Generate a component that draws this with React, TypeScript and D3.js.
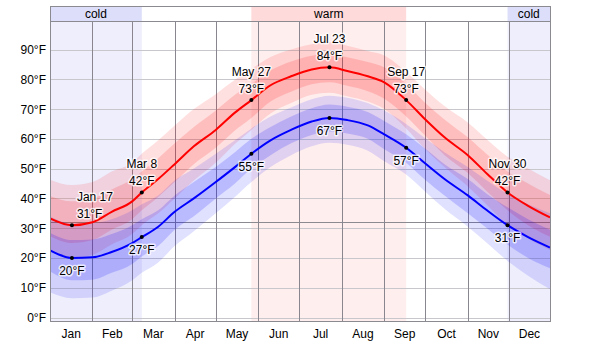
import React from "react";
import * as d3 from "d3";

// ---- data ----
const dates = ["2012-01-01","2012-01-17","2012-02-01","2012-02-15","2012-03-01","2012-03-08","2012-03-20","2012-04-01","2012-04-15","2012-05-01","2012-05-15","2012-05-27","2012-06-10","2012-06-25","2012-07-10","2012-07-23","2012-08-05","2012-08-20","2012-09-01","2012-09-17","2012-10-01","2012-10-15","2012-11-01","2012-11-15","2012-11-30","2012-12-15","2012-12-31"];

const highMean = [33.3,31,32,35.5,39,42,46.5,51.5,57.5,63,68.8,73,78,81,83.3,84,82.8,81,79,73,66.5,60.5,54.5,48.3,42,37.5,33.6];
const highP90 = [46.3,44.5,45.5,49,52,55,59.5,64.5,70,75,79.8,83.5,87.5,90,91.8,92.5,91.3,89.5,88,82.5,76.5,71,65.5,59.8,54,50,46.1];
const highP75 = [40.8,39,40,43,46.5,49,53.5,58.5,64,69.5,74.8,78.5,83,86,87.9,88.6,87.4,85.8,84,78.5,72,66.5,60.5,54.8,49,45,41.1];
const highP25 = [27.3,25,26,29.5,33,36,40.5,45.5,51.5,57,62.8,67,72.5,75.8,78.3,79,77.8,76,73.5,67.5,61,54.5,48.5,42.3,36,31,27.1];
const highP10 = [22.3,20,21,24.5,28,31,35,40,46,52,58.3,63,68.5,72,74.8,75.5,74.3,72.5,70,63.5,56.5,50.5,44,37.8,31,26.5,22.6];

const lowMean = [22.5,20,20.2,22,25,27,30.5,35.5,40,45.5,50.5,55,59.5,63,65.8,67,66.3,64.5,61.5,57,51.7,46.5,41,36,31,27,23.5];
const lowP90 = [34,31.5,31.7,33,36,38,41,46,50,55,59.5,63.5,67.5,70.5,73.3,74.5,73.8,72,69.5,65,60.2,55.5,50.5,46,41.5,38,35];
const lowP75 = [28.5,26,26.2,28,31,33,36,41,45.5,50.5,55.5,60,64,67.5,70.3,71.5,70.8,69,66,61.5,56.7,51.5,46.5,41.5,37,33,29.5];
const lowP25 = [15.5,12.5,12.7,15,18,20.5,24,29.5,34,40,45,50,54.5,58.5,61.3,62.5,61.8,60,56.5,52,46.2,41,35,30,24.5,20,16.5];
const lowP10 = [8.5,6.5,6.7,9,12.5,15,18.5,24,29,35,40.5,45.5,50.5,54.5,57.5,58.7,58,56,52.5,48,42.2,36.5,30.5,25,19,14,9.5];

const labelDates = ["2012-01-17","2012-03-08","2012-05-27","2012-07-23","2012-09-17","2012-11-30"];
const labelNames = ["Jan 17","Mar 8","May 27","Jul 23","Sep 17","Nov 30"];
const labelHigh = [31,42,73,84,73,42];
const labelLow = [20,27,55,67,57,31];

const seasonNames = ["cold","warm","cold"];
const seasonStart = ["2012-01-01","2012-05-27","2012-11-30"];
const seasonEnd = ["2012-03-08","2012-09-17","2012-12-31"];

const yTicks = [0,10,20,30,40,50,60,70,80,90];
const freezing = 32;
const monthNames = ["Jan","Feb","Mar","Apr","May","Jun","Jul","Aug","Sep","Oct","Nov","Dec"];

// ---- layout ----
const W = 600, H = 344;
const L = 50, R = 550, T = 21, B = 321, HT = 6;
const FONT = "'Liberation Sans', Arial, sans-serif";

export default function App() {
  const parse = d3.timeParse("%Y-%m-%d");
  const x = d3.scaleTime().domain([parse("2012-01-01")!, parse("2012-12-31")!]).range([L, R]);
  const y = d3.scaleLinear().domain([0, 90]).range([317.5, 49.5]);

  const rows = dates.map((d, i) => ({
    date: parse(d)!,
    hm: highMean[i], h90: highP90[i], h75: highP75[i], h25: highP25[i], h10: highP10[i],
    lm: lowMean[i], l90: lowP90[i], l75: lowP75[i], l25: lowP25[i], l10: lowP10[i],
  }));
  type Row = typeof rows[number];
  const curve = d3.curveMonotoneX;
  const area = (lo: (r: Row) => number, hi: (r: Row) => number) =>
    d3.area<Row>().x(r => x(r.date)).y0(r => y(lo(r))).y1(r => y(hi(r))).curve(curve)(rows) || "";
  const line = (v: (r: Row) => number) =>
    d3.line<Row>().x(r => x(r.date)).y(r => y(v(r))).curve(curve)(rows) || "";

  const monthStarts = d3.timeMonth.range(parse("2012-01-01")!, parse("2013-01-01")!);
  const monthBounds = monthStarts.slice(1);
  const endX = R;

  const halo = {
    stroke: "#fff", strokeWidth: 3, strokeOpacity: 0.75, paintOrder: "stroke" as any, strokeLinejoin: "round" as any,
  };

  return (
    <svg width={W} height={H} style={{ position: "fixed", left: 0, top: 0, background: "#fff" }} fontFamily={FONT}>
      <defs>
        <clipPath id="plot"><rect x={L} y={T} width={R - L} height={B - T} /></clipPath>
      </defs>
      {/* season background */}
      {seasonNames.map((s, i) => {
        const x0 = x(parse(seasonStart[i])!), x1 = x(parse(seasonEnd[i])!);
        return (
          <g key={i}>
            <rect x={x0} y={T} width={x1 - x0} height={B - T} fill={s === "cold" ? "#eeeefc" : "#ffeeee"} />
            <rect x={x0} y={HT} width={x1 - x0} height={T - HT} fill={s === "cold" ? "#dcdefa" : "#ffdada"} />
          </g>
        );
      })}
      {/* horizontal grid */}
      {yTicks.map(t => (
        <line key={t} x1={L} x2={R} y1={Math.round(y(t)) + 0.5} y2={Math.round(y(t)) + 0.5} stroke="#c8c8cc" strokeWidth={1} />
      ))}
      <line x1={L} x2={R} y1={Math.round(y(freezing)) + 0.5} y2={Math.round(y(freezing)) + 0.5} stroke="#8a8a90" strokeWidth={1} />
      {/* month lines */}
      {monthBounds.map((m, i) => (
        <line key={i} x1={Math.round(x(m)) + 0.5} x2={Math.round(x(m)) + 0.5} y1={T} y2={B} stroke="#8a8690" strokeWidth={1} />
      ))}
      {/* bands */}
      <g clipPath="url(#plot)">
        <path d={area(r => r.h10, r => r.h90)} fill="rgba(255,0,0,0.12)" />
        <path d={area(r => r.h25, r => r.h75)} fill="rgba(255,0,0,0.15)" />
        <path d={area(r => r.l10, r => r.l90)} fill="rgba(0,0,255,0.12)" />
        <path d={area(r => r.l25, r => r.l75)} fill="rgba(0,0,255,0.17)" />
        <path d={line(r => r.hm)} fill="none" stroke="#ff0000" strokeWidth={2} />
        <path d={line(r => r.lm)} fill="none" stroke="#0000ff" strokeWidth={2} />
      </g>
      {/* frames */}
      <rect x={L + 0.5} y={HT + 0.5} width={R - L} height={B - HT} fill="none" stroke="#8a8a90" />
      <line x1={L} x2={R + 1} y1={T + 0.5} y2={T + 0.5} stroke="#8a8a90" />
      {seasonNames.map((s, i) => {
        const x0 = x(parse(seasonStart[i])!), x1 = x(parse(seasonEnd[i])!);
        return (
          <text key={i} x={(x0 + x1) / 2} y={HT + 11.5} fontSize={12} textAnchor="middle" fill="#000">{s}</text>
        );
      })}
      {/* labels */}
      {labelDates.map((d, i) => {
        const px = x(parse(d)!);
        const hy = y(labelHigh[i]);
        const ly = y(labelLow[i]);
        const start = i === 0;
        const tx = start ? px + 5 : px;
        const anchor = start ? "start" : "middle";
        return (
          <g key={d} fontSize={12} fill="#000">
            <circle cx={px} cy={hy} r={2} fill="#000" />
            <circle cx={px} cy={ly} r={2} fill="#000" />
            <text x={tx} y={hy - 24} textAnchor={anchor} {...halo}>{labelNames[i]}</text>
            <text x={tx} y={hy - 7.5} textAnchor={anchor} {...halo}>{labelHigh[i]}°F</text>
            <text x={px} y={ly + 17} textAnchor="middle" {...halo}>{labelLow[i]}°F</text>
          </g>
        );
      })}
      {/* y axis labels */}
      {yTicks.map(t => (
        <text key={t} x={46} y={y(t) + 4.5} fontSize={12} textAnchor="end" fill="#000">{t}°F</text>
      ))}
      {/* month labels */}
      {monthStarts.map((m, i) => {
        const next = i < 11 ? monthStarts[i + 1] : null;
        const cx = (x(m) + (next ? x(next) : endX)) / 2;
        return <text key={i} x={cx} y={338} fontSize={12} textAnchor="middle" fill="#000">{monthNames[i]}</text>;
      })}
    </svg>
  );
}
